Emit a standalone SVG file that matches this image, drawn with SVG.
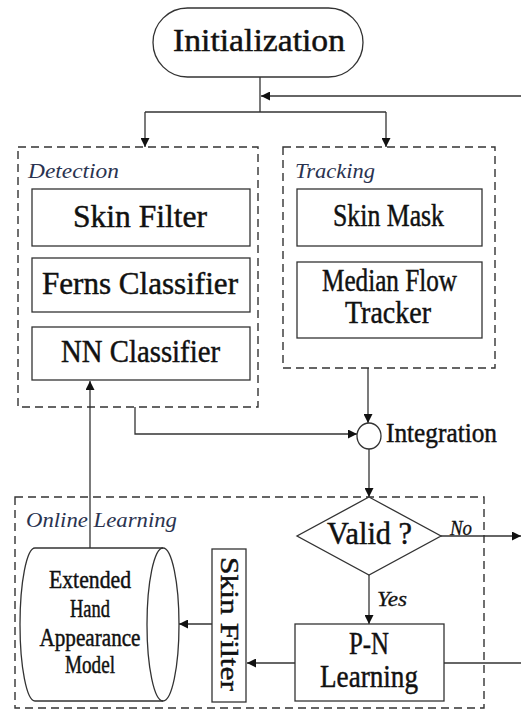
<svg xmlns="http://www.w3.org/2000/svg" width="521" height="711" viewBox="0 0 521 711">
<style>
  .box { fill: #fff; stroke: #333; stroke-width: 1.3; }
  .grp { fill: none; stroke: #333; stroke-width: 1.4; stroke-dasharray: 8 5; }
  .ln { fill: none; stroke: #333; stroke-width: 1.3; }
  .t { font-family: "Liberation Serif", "Times New Roman", serif; fill: #111; stroke: #111; stroke-width: 0.45; }
  .big { font-size: 31px; }
  .mid { font-size: 25px; }
  .lab { font-family: "Liberation Serif", "Times New Roman", serif; font-style: italic; font-size: 21px; fill: #2a3350; }
  .yn { font-family: "Liberation Serif", "Times New Roman", serif; font-style: italic; font-size: 21px; fill: #111; stroke: #111; stroke-width: 0.3; }
</style>
<defs>
  <marker id="arr" viewBox="0 0 10 10" refX="10" refY="5" markerWidth="10" markerHeight="9" orient="auto" markerUnits="userSpaceOnUse">
    <path d="M0,0 L10,5 L0,10 z" fill="#111"/>
  </marker>
</defs>
<rect width="521" height="711" fill="#fff"/>

<g id="connectors">
  <path class="ln" d="M260,77 V112"/>
  <path class="ln" d="M521,96 H261" marker-end="url(#arr)"/>
  <path class="ln" d="M145,112 H386"/>
  <path class="ln" d="M145,112 V147" marker-end="url(#arr)"/>
  <path class="ln" d="M386,112 V147" marker-end="url(#arr)"/>
  <path class="ln" d="M368,368 V423" marker-end="url(#arr)"/>
  <path class="ln" d="M135,407 V434 H357" marker-end="url(#arr)"/>
  <path class="ln" d="M369,449 V497" marker-end="url(#arr)"/>
  <path class="ln" d="M441,536 H521" marker-end="url(#arr)"/>
  <path class="ln" d="M369,575 V624" marker-end="url(#arr)"/>
  <path class="ln" d="M444,663 H521"/>
  <path class="ln" d="M295,663 H247" marker-end="url(#arr)"/>
  <path class="ln" d="M212,624 H179" marker-end="url(#arr)"/>
  <path class="ln" d="M90,548 V381" marker-end="url(#arr)"/>
</g>

<g id="initialization">
  <rect class="box" x="153" y="8" width="210" height="69" rx="34.5"/>
  <text class="t big" x="259" y="51" text-anchor="middle" textLength="172" lengthAdjust="spacingAndGlyphs">Initialization</text>
</g>

<g id="detection">
  <rect class="grp" x="18" y="147" width="240" height="260"/>
  <text class="lab" x="28" y="178" textLength="91" lengthAdjust="spacingAndGlyphs">Detection</text>
</g>
<g id="skin-filter-det">
  <rect class="box" x="32" y="189" width="218" height="57"/>
  <text class="t big" x="140" y="227" text-anchor="middle" textLength="134" lengthAdjust="spacingAndGlyphs">Skin Filter</text>
</g>
<g id="ferns">
  <rect class="box" x="32" y="258" width="218" height="54"/>
  <text class="t big" x="140" y="294" text-anchor="middle" textLength="196" lengthAdjust="spacingAndGlyphs">Ferns Classifier</text>
</g>
<g id="nn">
  <rect class="box" x="32" y="327" width="218" height="53"/>
  <text class="t big" x="140.5" y="362" text-anchor="middle" textLength="159" lengthAdjust="spacingAndGlyphs">NN Classifier</text>
</g>

<g id="tracking">
  <rect class="grp" x="283" y="147" width="212" height="221"/>
  <text class="lab" x="295" y="178" textLength="80" lengthAdjust="spacingAndGlyphs">Tracking</text>
</g>
<g id="skin-mask">
  <rect class="box" x="297" y="189" width="185" height="57"/>
  <text class="t big" x="388.5" y="226" text-anchor="middle" textLength="111" lengthAdjust="spacingAndGlyphs">Skin Mask</text>
</g>
<g id="median-flow">
  <rect class="box" x="297" y="262" width="185" height="76"/>
  <text class="t big" x="389.5" y="291" text-anchor="middle" textLength="135" lengthAdjust="spacingAndGlyphs">Median Flow</text>
  <text class="t big" x="388" y="323" text-anchor="middle" textLength="86" lengthAdjust="spacingAndGlyphs">Tracker</text>
</g>

<g id="integration">
  <ellipse class="box" cx="369" cy="436" rx="12" ry="13"/>
  <text class="t" font-size="27" x="386" y="442" textLength="111" lengthAdjust="spacingAndGlyphs">Integration</text>
</g>

<g id="online-learning">
  <rect class="grp" x="15" y="497" width="469" height="211"/>
  <text class="lab" x="26" y="527" textLength="151" lengthAdjust="spacingAndGlyphs">Online Learning</text>
</g>

<g id="valid">
  <polygon class="box" points="369,497 441,536 369,575 297,536"/>
  <text class="t big" x="369.5" y="544" text-anchor="middle" textLength="85" lengthAdjust="spacingAndGlyphs">Valid ?</text>
  <text class="yn" x="450" y="535" textLength="22" lengthAdjust="spacingAndGlyphs">No</text>
  <text class="yn" x="377" y="606" textLength="30" lengthAdjust="spacingAndGlyphs">Yes</text>
</g>

<g id="pn-learning">
  <rect class="box" x="295" y="624" width="149" height="77"/>
  <text class="t big" x="369" y="654" text-anchor="middle" textLength="40" lengthAdjust="spacingAndGlyphs">P-N</text>
  <text class="t big" x="369" y="687" text-anchor="middle" textLength="98" lengthAdjust="spacingAndGlyphs">Learning</text>
</g>

<g id="skin-filter-ol">
  <rect class="box" x="212" y="549" width="34" height="153"/>
  <text class="t" font-size="26" transform="translate(229,624) rotate(90)" x="0" y="8" text-anchor="middle" textLength="134" lengthAdjust="spacingAndGlyphs">Skin Filter</text>
</g>

<g id="hand-model">
  <path class="box" d="M35,548 H163 A16,76.5 0 0 1 163,701 H35 A15,76.5 0 0 1 35,548 Z"/>
  <path class="ln" d="M163,548 A16,76.5 0 0 0 163,701"/>
  <text class="t mid" x="90" y="588" text-anchor="middle" textLength="82" lengthAdjust="spacingAndGlyphs">Extended</text>
  <text class="t mid" x="90" y="617" text-anchor="middle" textLength="40" lengthAdjust="spacingAndGlyphs">Hand</text>
  <text class="t mid" x="90" y="646" text-anchor="middle" textLength="101" lengthAdjust="spacingAndGlyphs">Appearance</text>
  <text class="t mid" x="90" y="673" text-anchor="middle" textLength="50" lengthAdjust="spacingAndGlyphs">Model</text>
</g>
</svg>
